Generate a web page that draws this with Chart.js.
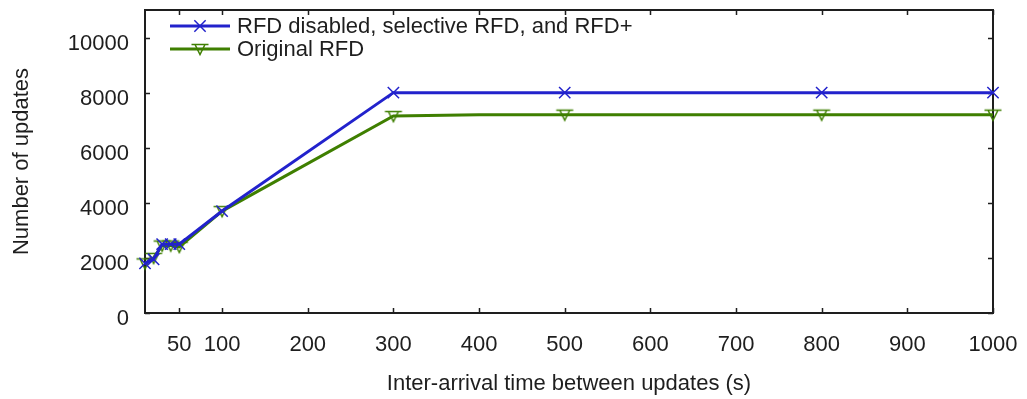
<!DOCTYPE html>
<html>
<head>
<meta charset="utf-8">
<script src="https://cdn.jsdelivr.net/npm/chart.js@4/dist/chart.umd.min.js"></script>
<style>
  html, body { margin: 0; padding: 0; background: #fff; }
  #wrap { width: 1027px; height: 399px; }
</style>
</head>
<body>
<div id="wrap"><canvas id="updates-chart" width="1027" height="399"></canvas></div>
<script>
// data
const blueLabel = 'RFD disabled, selective RFD, and RFD+';
const blueX = [10, 20, 30, 40, 50, 100, 300, 500, 800, 1000];
const blueY = [1800, 1950, 2500, 2500, 2500, 3700, 8000, 8000, 8000, 8000];

const greenLabel = 'Original RFD';
const greenX = [10, 20, 30, 40, 50, 100, 300, 400, 500, 800, 1000];
const greenY = [1800, 2000, 2450, 2450, 2400, 3700, 7150, 7200, 7200, 7200, 7200];
const greenMarked = [1, 1, 1, 1, 1, 1, 1, 0, 1, 1, 1];

const xTickValues = [50, 100, 200, 300, 400, 500, 600, 700, 800, 900, 1000];
const yTickValues = [0, 2000, 4000, 6000, 8000, 10000];

const BLUE = '#2222cc';
const GREEN = '#3f7f00';
const INK = '#1e1e1e';
const FONT = { family: "'Liberation Sans', Arial, sans-serif", size: 22 };

/**
 * Down-pointing triangle with a bar on top, as a small canvas
 */
function makeTriangleMarker(color) {
  const c = document.createElement('canvas');
  c.width = 20;
  c.height = 16;
  const g = c.getContext('2d');
  g.strokeStyle = color;
  g.lineWidth = 1.5;
  g.beginPath();
  g.moveTo(1.5, 3.5); g.lineTo(18.5, 3.5);
  g.moveTo(5, 3.5); g.lineTo(10, 13.5); g.lineTo(15, 3.5);
  g.stroke();
  return c;
}
const greenMarker = makeTriangleMarker(GREEN);

// keep the scales from pushing the plot area in
function noPadding(scale) {
  scale.paddingLeft = 0;
  scale.paddingRight = 0;
  scale.paddingTop = 0;
  scale.paddingBottom = 0;
}

/**
 * Box round the plot with short inward ticks on all four sides
 */
const frameTicks = {
  id: 'frameTicks',
  beforeDatasetsDraw(chart) {
    const { ctx, chartArea: a, scales: { x, y } } = chart;
    const len = 5;
    ctx.save();
    ctx.strokeStyle = INK;
    ctx.lineWidth = 1.5;
    ctx.beginPath();
    x.ticks.forEach(t => {
      const px = Math.round(x.getPixelForValue(t.value)) + 0.5;
      ctx.moveTo(px, a.bottom); ctx.lineTo(px, a.bottom - len);
      ctx.moveTo(px, a.top); ctx.lineTo(px, a.top + len);
    });
    y.ticks.forEach(t => {
      const py = Math.round(y.getPixelForValue(t.value)) + 0.5;
      ctx.moveTo(a.left, py); ctx.lineTo(a.left + len, py);
      ctx.moveTo(a.right, py); ctx.lineTo(a.right - len, py);
    });
    ctx.stroke();
    ctx.lineWidth = 2;
    ctx.strokeRect(a.left, a.top, a.width, a.height);
    ctx.restore();
  }
};

/**
 * Legend drawn inside the plot, line sample with marker
 */
const insideLegend = {
  id: 'insideLegend',
  afterDatasetsDraw(chart) {
    const { ctx, chartArea: a } = chart;
    ctx.save();
    ctx.font = `${FONT.size}px ${FONT.family}`;
    ctx.textBaseline = 'middle';
    ctx.textAlign = 'left';
    chart.data.datasets.forEach((ds, i) => {
      const yy = a.top + 16 + i * 23;
      const x0 = a.left + 25;
      ctx.strokeStyle = ds.borderColor;
      ctx.lineWidth = ds.borderWidth;
      ctx.beginPath();
      ctx.moveTo(x0, yy); ctx.lineTo(x0 + 60, yy);
      ctx.stroke();
      ctx.lineWidth = 1.5;
      Chart.helpers.drawPoint(ctx, {
        pointStyle: ds.pointStyle, rotation: 0, radius: 8, borderWidth: 1.5
      }, x0 + 30, yy);
      ctx.fillStyle = INK;
      ctx.fillText(ds.label, x0 + 67, yy + 1);
    });
    ctx.restore();
  }
};

const ctx = document.getElementById('updates-chart').getContext('2d');
const chart = new Chart(ctx, {
  type: 'line',
  data: {
    datasets: [
      {
        label: blueLabel,
        data: blueX.map((v, i) => ({ x: v, y: blueY[i] })),
        borderColor: BLUE,
        backgroundColor: BLUE,
        borderWidth: 3,
        pointStyle: 'crossRot',
        pointRadius: 8,
        pointBorderWidth: 1.5,
        pointBorderColor: BLUE,
        tension: 0,
        clip: false
      },
      {
        label: greenLabel,
        data: greenX.map((v, i) => ({ x: v, y: greenY[i] })),
        borderColor: GREEN,
        backgroundColor: GREEN,
        borderWidth: 3,
        pointStyle: greenMarker,
        pointRadius: c => greenMarked[c.dataIndex] ? 6 : 0,
        tension: 0,
        clip: false
      }
    ]
  },
  options: {
    responsive: false,
    animation: false,
    layout: { padding: { top: 10, right: 34, left: 0, bottom: 0 } },
    scales: {
      x: {
        type: 'linear',
        min: 10,
        max: 1000,
        afterBuildTicks: scale => { scale.ticks = xTickValues.map(v => ({ value: v })); },
        afterFit: scale => { scale.height = 86; noPadding(scale); },
        grid: { display: false, drawTicks: false },
        border: { display: false },
        ticks: {
          color: INK, font: FONT, padding: 19, maxRotation: 0, autoSkip: false,
          callback: v => String(v)
        },
        title: {
          display: true,
          text: 'Inter-arrival time between updates (s)',
          color: INK,
          font: FONT,
          padding: { top: 0, bottom: 2 }
        }
      },
      y: {
        min: 0,
        max: 11000,
        afterBuildTicks: scale => { scale.ticks = yTickValues.map(v => ({ value: v })); },
        afterFit: scale => { scale.width = 145; noPadding(scale); },
        grid: { display: false, drawTicks: false },
        border: { display: false },
        ticks: {
          color: INK, font: FONT, padding: 16, labelOffset: 6,
          callback: v => String(v)
        },
        title: {
          display: true,
          text: 'Number of updates',
          color: INK,
          font: FONT,
          padding: { top: 9, bottom: 0 }
        }
      }
    },
    plugins: {
      legend: { display: false },
      tooltip: { enabled: false }
    }
  },
  plugins: [frameTicks, insideLegend]
});
</script>
</body>
</html>
